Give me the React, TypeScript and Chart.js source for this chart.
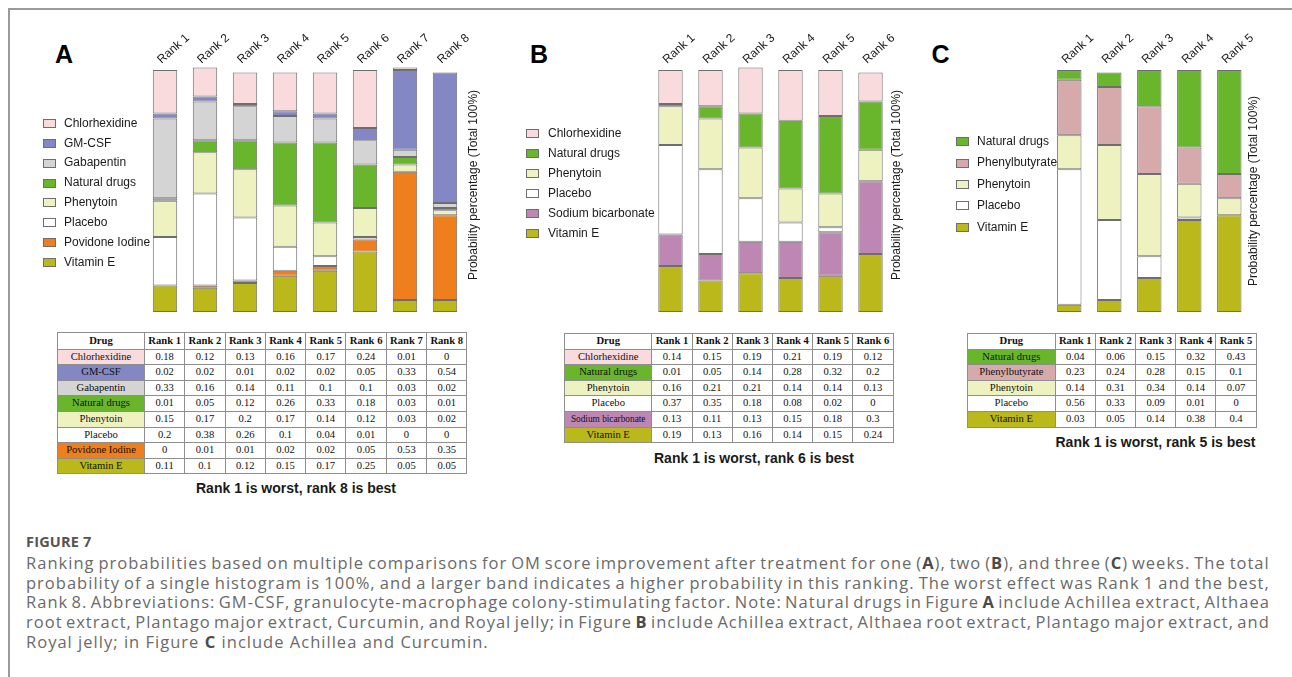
import React, { useEffect, useRef } from 'react';
import { Chart, registerables } from 'chart.js';

Chart.register(...registerables);

// ---------------- Data ----------------
const ranksA = ['Rank 1', 'Rank 2', 'Rank 3', 'Rank 4', 'Rank 5', 'Rank 6', 'Rank 7', 'Rank 8'];
const chlorhexidineA = [0.18, 0.12, 0.13, 0.16, 0.17, 0.24, 0.01, 0];
const gmCsfA = [0.02, 0.02, 0.01, 0.02, 0.02, 0.05, 0.33, 0.54];
const gabapentinA = [0.33, 0.16, 0.14, 0.11, 0.1, 0.1, 0.03, 0.02];
const naturalDrugsA = [0.01, 0.05, 0.12, 0.26, 0.33, 0.18, 0.03, 0.01];
const phenytoinA = [0.15, 0.17, 0.2, 0.17, 0.14, 0.12, 0.03, 0.02];
const placeboA = [0.2, 0.38, 0.26, 0.1, 0.04, 0.01, 0, 0];
const povidoneIodineA = [0, 0.01, 0.01, 0.02, 0.02, 0.05, 0.53, 0.35];
const vitaminEA = [0.11, 0.1, 0.12, 0.15, 0.17, 0.25, 0.05, 0.05];

const ranksB = ['Rank 1', 'Rank 2', 'Rank 3', 'Rank 4', 'Rank 5', 'Rank 6'];
const chlorhexidineB = [0.14, 0.15, 0.19, 0.21, 0.19, 0.12];
const naturalDrugsB = [0.01, 0.05, 0.14, 0.28, 0.32, 0.2];
const phenytoinB = [0.16, 0.21, 0.21, 0.14, 0.14, 0.13];
const placeboB = [0.37, 0.35, 0.18, 0.08, 0.02, 0];
const sodiumBicarbonateB = [0.13, 0.11, 0.13, 0.15, 0.18, 0.3];
const vitaminEB = [0.19, 0.13, 0.16, 0.14, 0.15, 0.24];

const ranksC = ['Rank 1', 'Rank 2', 'Rank 3', 'Rank 4', 'Rank 5'];
const naturalDrugsC = [0.04, 0.06, 0.15, 0.32, 0.43];
const phenylbutyrateC = [0.23, 0.24, 0.28, 0.15, 0.1];
const phenytoinC = [0.14, 0.31, 0.34, 0.14, 0.07];
const placeboC = [0.56, 0.33, 0.09, 0.01, 0];
const vitaminEC = [0.03, 0.05, 0.14, 0.38, 0.4];

// ---------------- Styles ----------------
const COL = {
  chlorhexidine: '#FADBDD',
  gmCsf: '#8387C4',
  gabapentin: '#D4D4D4',
  natural: '#69B62C',
  phenytoin: '#EEF2C1',
  placebo: '#FFFFFF',
  povidone: '#EF7F1C',
  vitaminE: '#BAB81B',
  sodium: '#BE86B3',
  phenylbutyrate: '#D6AAAB',
};
const EDGE = '#6e6e6e';
const SANS = '"Liberation Sans", Arial, Helvetica, sans-serif';
const SERIF = '"Liberation Serif", "Times New Roman", Times, serif';
const CAPTION_FONT = '"Open Sans", "Noto Sans", sans-serif';
const Y_TITLE = 'Probability percentage (Total 100%)';

Chart.defaults.font.family = SANS;

type Series = { label: string; data: number[]; color: string };

const seriesA: Series[] = [
  { label: 'Chlorhexidine', data: chlorhexidineA, color: COL.chlorhexidine },
  { label: 'GM-CSF', data: gmCsfA, color: COL.gmCsf },
  { label: 'Gabapentin', data: gabapentinA, color: COL.gabapentin },
  { label: 'Natural drugs', data: naturalDrugsA, color: COL.natural },
  { label: 'Phenytoin', data: phenytoinA, color: COL.phenytoin },
  { label: 'Placebo', data: placeboA, color: COL.placebo },
  { label: 'Povidone Iodine', data: povidoneIodineA, color: COL.povidone },
  { label: 'Vitamin E', data: vitaminEA, color: COL.vitaminE },
];
const seriesB: Series[] = [
  { label: 'Chlorhexidine', data: chlorhexidineB, color: COL.chlorhexidine },
  { label: 'Natural drugs', data: naturalDrugsB, color: COL.natural },
  { label: 'Phenytoin', data: phenytoinB, color: COL.phenytoin },
  { label: 'Placebo', data: placeboB, color: COL.placebo },
  { label: 'Sodium bicarbonate', data: sodiumBicarbonateB, color: COL.sodium },
  { label: 'Vitamin E', data: vitaminEB, color: COL.vitaminE },
];
const seriesC: Series[] = [
  { label: 'Natural drugs', data: naturalDrugsC, color: COL.natural },
  { label: 'Phenylbutyrate', data: phenylbutyrateC, color: COL.phenylbutyrate },
  { label: 'Phenytoin', data: phenytoinC, color: COL.phenytoin },
  { label: 'Placebo', data: placeboC, color: COL.placebo },
  { label: 'Vitamin E', data: vitaminEC, color: COL.vitaminE },
];

const PLOT_TOP = 70;
const PLOT_BOTTOM = 312;
const CANVAS_H = 330;
const AXIS_H = 45;

// Rotated axis title on the right-hand side (reads bottom-to-top)
const yTitlePlugin = {
  id: 'yTitle',
  afterDraw(chart: any, _args: any, opts: any) {
    const ctx = chart.ctx;
    ctx.save();
    ctx.translate(opts.x, opts.y);
    ctx.rotate(-Math.PI / 2);
    ctx.font = `12px ${SANS}`;
    ctx.fillStyle = '#1a1a1a';
    ctx.textAlign = 'center';
    ctx.textBaseline = 'middle';
    ctx.fillText(opts.text, 0, 0);
    ctx.restore();
  },
};

// Legend drawn to the left of the plot, built from the chart's own datasets
const sideLegendPlugin = {
  id: 'sideLegend',
  afterDraw(chart: any, _args: any, opts: any) {
    const ctx = chart.ctx;
    const items = [...chart.data.datasets].reverse();
    ctx.save();
    ctx.font = `12px ${SANS}`;
    ctx.textBaseline = 'middle';
    ctx.textAlign = 'left';
    items.forEach((ds: any, i: number) => {
      const y = opts.firstY + i * opts.step;
      const top = Math.round(y - 4.5);
      ctx.fillStyle = ds.backgroundColor;
      ctx.fillRect(opts.boxX, top, 13, 9);
      ctx.strokeStyle = ds.borderColor;
      ctx.lineWidth = 1;
      ctx.strokeRect(opts.boxX + 0.5, top + 0.5, 12, 8);
      ctx.fillStyle = '#1a1a1a';
      ctx.fillText(ds.label, opts.textX, y);
    });
    ctx.restore();
  },
};

type PanelProps = {
  canvasLeft: number;
  canvasWidth: number;
  labels: string[];
  series: Series[];
  boxX: number;
  textX: number;
  firstItemY: number;
  itemStep: number;
  plotLeft: number;
  plotRight: number;
  titleX: number;
  titleY: number;
};

function StackedPanel(p: PanelProps) {
  const ref = useRef<HTMLCanvasElement>(null);
  useEffect(() => {
    const canvas = ref.current;
    if (!canvas) return;
    const chart = new Chart(canvas, {
      type: 'bar',
      data: {
        labels: p.labels,
        datasets: [...p.series].reverse().map((s) => ({
          label: s.label,
          data: s.data,
          backgroundColor: s.color,
          borderColor: EDGE,
          borderWidth: 1,
          borderSkipped: false,
          categoryPercentage: 1,
          barPercentage: 0.61,
          clip: false,
        })),
      },
      options: {
        responsive: false,
        animation: false,
        events: [],
        layout: {
          padding: {
            left: p.plotLeft - p.canvasLeft,
            right: p.canvasLeft + p.canvasWidth - p.plotRight,
            top: PLOT_TOP - AXIS_H,
            bottom: CANVAS_H - PLOT_BOTTOM,
          },
        },
        scales: {
          x: {
            type: 'category',
            position: 'top',
            stacked: true,
            offset: true,
            grid: { display: false, drawTicks: false },
            border: { display: false },
            ticks: {
              font: { size: 12, family: SANS },
              color: '#1a1a1a',
              minRotation: 42,
              maxRotation: 42,
              autoSkip: false,
              padding: 3,
              labelOffset: 4,
            },
            afterFit: (s: any) => {
              s.height = AXIS_H;
            },
          },
          y: { display: false, stacked: true, min: 0, max: 1 },
        },
        plugins: {
          legend: { display: false },
          tooltip: { enabled: false },
          yTitle: { x: p.titleX - p.canvasLeft, y: p.titleY, text: Y_TITLE },
          sideLegend: {
            boxX: p.boxX - p.canvasLeft,
            textX: p.textX - p.canvasLeft,
            firstY: p.firstItemY,
            step: p.itemStep,
          },
        } as any,
      } as any,
      plugins: [yTitlePlugin, sideLegendPlugin],
    });
    return () => chart.destroy();
  }, []);
  return (
    <canvas
      ref={ref}
      width={p.canvasWidth}
      height={CANVAS_H}
      style={{ position: 'absolute', left: p.canvasLeft, top: 0, width: p.canvasWidth, height: CANVAS_H }}
    />
  );
}

type TableProps = {
  left: number;
  top: number;
  ranks: string[];
  rows: Series[];
  drugW: number;
  rankW: number;
  headH: number;
  rowH: number;
};

function RankTable(t: TableProps) {
  const cell: React.CSSProperties = {
    border: '1px solid #8e8e8e',
    padding: 0,
    textAlign: 'center',
    verticalAlign: 'middle',
    whiteSpace: 'nowrap',
    overflow: 'hidden',
    lineHeight: 1,
  };
  return (
    <table
      style={{
        position: 'absolute',
        left: t.left,
        top: t.top,
        borderCollapse: 'collapse',
        tableLayout: 'fixed',
        width: t.drugW + t.rankW * t.ranks.length,
        fontFamily: SERIF,
        fontSize: 10.6,
        color: '#111',
        background: '#fff',
      }}
    >
      <colgroup>
        <col style={{ width: t.drugW }} />
        {t.ranks.map((r) => (
          <col key={r} style={{ width: t.rankW }} />
        ))}
      </colgroup>
      <tbody>
        <tr style={{ height: t.headH }}>
          <th style={{ ...cell, fontWeight: 700 }}>Drug</th>
          {t.ranks.map((r) => (
            <th key={r} style={{ ...cell, fontWeight: 700 }}>
              {r}
            </th>
          ))}
        </tr>
        {t.rows.map((row) => (
          <tr key={row.label} style={{ height: t.rowH }}>
            <td style={{ ...cell, background: row.color, fontSize: row.label.length > 16 ? 9.3 : 10.6 }}>{row.label}</td>
            {row.data.map((v, i) => (
              <td key={i} style={cell}>
                {String(v)}
              </td>
            ))}
          </tr>
        ))}
      </tbody>
    </table>
  );
}

// ---------------- Caption ----------------
const captionLines = [
  'Ranking probabilities based on multiple comparisons for OM score improvement after treatment for one ({A}), two ({B}), and three ({C}) weeks. The total',
  'probability of a single histogram is 100%, and a larger band indicates a higher probability in this ranking. The worst effect was Rank 1 and the best,',
  'Rank 8. Abbreviations: GM-CSF, granulocyte-macrophage colony-stimulating factor. Note: Natural drugs in Figure {A} include Achillea extract, Althaea',
  'root extract, Plantago major extract, Curcumin, and Royal jelly; in Figure {B} include Achillea extract, Althaea root extract, Plantago major extract, and',
  'Royal jelly; in Figure {C} include Achillea and Curcumin.',
];
const CAP_LEFT = 26;
const CAP_WIDTH = 1244;
const CAP_SIZE = 16.5;
const CAP_LAST_WIDTH = 466;

function computeLetterSpacing(): number {
  try {
    const ctx = document.createElement('canvas').getContext('2d');
    if (!ctx) return 0.5;
    ctx.font = `${CAP_SIZE}px ${CAPTION_FONT}`;
    const plain = captionLines.map((l) => l.replace(/[{}]/g, ''));
    const last = plain[plain.length - 1];
    let ls = (CAP_LAST_WIDTH - ctx.measureText(last).width) / last.length;
    for (let i = 0; i < plain.length - 1; i++) {
      const noSpace = plain[i].split(' ');
      const wordsW = noSpace.reduce((a, w) => a + ctx.measureText(w).width, 0);
      const chars = noSpace.reduce((a, w) => a + w.length, 0);
      const gaps = noSpace.length - 1;
      const minGap = ctx.measureText(' ').width * 0.8;
      const maxLs = (CAP_WIDTH - wordsW - gaps * minGap) / chars;
      ls = Math.min(ls, maxLs);
    }
    return Math.max(ls, -0.5);
  } catch (e) {
    return 0.5;
  }
}

function renderWord(word: string, key: number) {
  const parts = word.split(/(\{[A-Z]\})/).filter((s) => s.length > 0);
  return (
    <span key={key} style={{ whiteSpace: 'nowrap' }}>
      {parts.map((part, i) =>
        /^\{[A-Z]\}$/.test(part) ? (
          <b key={i} style={{ fontWeight: 700, color: '#4a4a4a' }}>
            {part.slice(1, 2)}
          </b>
        ) : (
          <React.Fragment key={i}>{part}</React.Fragment>
        )
      )}
    </span>
  );
}

function Caption() {
  const ls = computeLetterSpacing();
  const lineH = 19.6;
  const firstTop = 563 - lineH / 2;
  return (
    <>
      <div
        style={{
          position: 'absolute',
          left: CAP_LEFT,
          top: 542 - lineH / 2,
          height: lineH,
          lineHeight: `${lineH}px`,
          fontFamily: CAPTION_FONT,
          fontSize: 14.5,
          fontWeight: 700,
          color: '#555',
          letterSpacing: 0.2,
          whiteSpace: 'nowrap',
        }}
      >
        FIGURE 7
      </div>
      {captionLines.map((line, i) => {
        const words = line.split(' ');
        const isLast = i === captionLines.length - 1;
        return (
          <div
            key={i}
            style={{
              position: 'absolute',
              left: CAP_LEFT,
              top: firstTop + i * lineH,
              width: isLast ? undefined : CAP_WIDTH,
              height: lineH,
              lineHeight: `${lineH}px`,
              display: isLast ? 'block' : 'flex',
              justifyContent: 'space-between',
              fontFamily: CAPTION_FONT,
              fontSize: CAP_SIZE,
              color: '#6a6a6a',
              letterSpacing: ls,
              whiteSpace: 'nowrap',
            }}
          >
            {isLast
              ? words.map((w, k) => (
                  <React.Fragment key={k}>
                    {renderWord(w, k)}
                    {k < words.length - 1 ? ' ' : ''}
                  </React.Fragment>
                ))
              : words.map((w, k) => renderWord(w, k))}
          </div>
        );
      })}
    </>
  );
}

function PanelLetter({ x, text }: { x: number; text: string }) {
  return (
    <div
      style={{
        position: 'absolute',
        left: x,
        top: 41.7,
        fontFamily: SANS,
        fontWeight: 700,
        fontSize: 25,
        lineHeight: '25px',
        color: '#000',
      }}
    >
      {text}
    </div>
  );
}

function RankNote({ cx, cy, text }: { cx: number; cy: number; text: string }) {
  return (
    <div
      style={{
        position: 'absolute',
        left: cx,
        top: cy - 9,
        height: 18,
        lineHeight: '18px',
        transform: 'translateX(-50%)',
        fontFamily: SANS,
        fontWeight: 700,
        fontSize: 14,
        color: '#1a1a1a',
        whiteSpace: 'nowrap',
      }}
    >
      {text}
    </div>
  );
}

export default function App() {
  return (
    <div
      style={{
        position: 'absolute',
        left: 0,
        top: 0,
        width: 1292,
        height: 677,
        background: '#fff',
        overflow: 'hidden',
      }}
    >
      <div
        style={{
          position: 'absolute',
          left: 8,
          top: 7.5,
          width: 1300,
          height: 700,
          borderTop: '2px solid #9a9a9a',
          borderLeft: '2px solid #9a9a9a',
        }}
      />
      <PanelLetter x={55} text="A" />
      <PanelLetter x={530} text="B" />
      <PanelLetter x={931.5} text="C" />

      <StackedPanel
        canvasLeft={0}
        canvasWidth={500}
        labels={ranksA}
        series={seriesA}
        boxX={43}
        textX={64}
        firstItemY={123.3}
        itemStep={19.9}
        plotLeft={145}
        plotRight={465}
        titleX={473.3}
        titleY={185}
      />
      <StackedPanel
        canvasLeft={500}
        canvasWidth={420}
        labels={ranksB}
        series={seriesB}
        boxX={526}
        textX={548}
        firstItemY={133.3}
        itemStep={20}
        plotLeft={650.5}
        plotRight={890.5}
        titleX={897}
        titleY={185}
      />
      <StackedPanel
        canvasLeft={920}
        canvasWidth={372}
        labels={ranksC}
        series={seriesC}
        boxX={956}
        textX={977}
        firstItemY={141.7}
        itemStep={21.4}
        plotLeft={1049.3}
        plotRight={1249.3}
        titleX={1254}
        titleY={191}
      />

      <RankTable left={57} top={332} ranks={ranksA} rows={seriesA} drugW={87} rankW={40.3} headH={16.7} rowH={15.6} />
      <RankTable left={564} top={333} ranks={ranksB} rows={seriesB} drugW={87.4} rankW={40.2} headH={15.7} rowH={15.6} />
      <RankTable left={967} top={333} ranks={ranksC} rows={seriesC} drugW={87.7} rankW={40.2} headH={15.7} rowH={15.6} />

      <RankNote cx={296} cy={488.3} text="Rank 1 is worst, rank 8 is best" />
      <RankNote cx={754} cy={457.7} text="Rank 1 is worst, rank 6 is best" />
      <RankNote cx={1155.5} cy={441.7} text="Rank 1 is worst, rank 5 is best" />

      <Caption />
    </div>
  );
}
